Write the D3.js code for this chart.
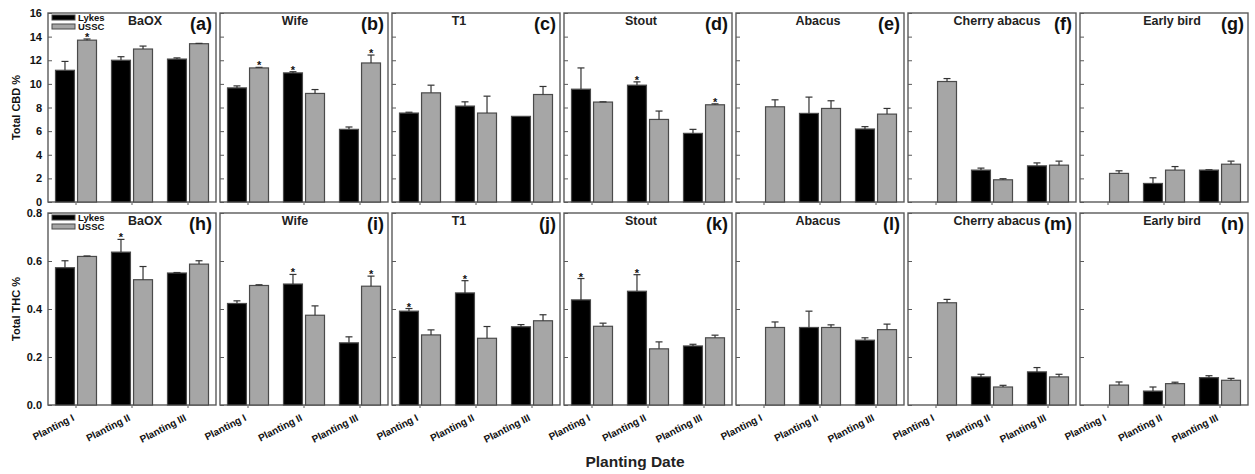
<!DOCTYPE html>
<html>
<head>
<meta charset="utf-8">
<script src="https://cdn.jsdelivr.net/npm/d3@7"></script>
<style>
  body { margin: 0; background: #fff; }
  svg { font-family: "Liberation Sans", Arial, sans-serif; }
</style>
</head>
<body>
<div id="chart"></div>
<script>
const cultivars = ["BaOX", "Wife", "T1", "Stout", "Abacus", "Cherry abacus", "Early bird"];
const plantings = ["Planting I", "Planting II", "Planting III"];
const series = ["Lykes", "USSC"];
const cbdTicks = [0, 2, 4, 6, 8, 10, 12, 14, 16];
const thcTicks = [0, 0.2, 0.4, 0.6, 0.8];

// Total CBD % (one row per cultivar, one value per planting date; null = no bar)
const cbdLykes = [[11.15, 12.0, 12.1], [9.66, 10.93, 6.15], [7.53, 8.12, 7.25], [9.55, 9.89, 5.81],
  [null, 7.5, 6.18], [null, 2.7, 3.06], [null, 1.57, 2.7]];
const cbdLykesErr = [[0.75, 0.3, 0.1], [0.17, 0.1, 0.2], [0.07, 0.36, 0], [1.8, 0.28, 0.34],
  [null, 1.38, 0.2], [null, 0.17, 0.25], [null, 0.48, 0.03]];
const cbdUssc = [[13.7, 12.95, 13.4], [11.35, 9.19, 11.77], [9.24, 7.53, 9.1], [8.46, 6.99, 8.23],
  [8.06, 7.92, 7.44], [10.2, 1.88, 3.12], [2.42, 2.7, 3.2]];
const cbdUsscErr = [[0.1, 0.25, 0.03], [0.05, 0.33, 0.67], [0.65, 1.43, 0.68], [0.02, 0.71, 0.08],
  [0.59, 0.65, 0.48], [0.25, 0.09, 0.34], [0.22, 0.3, 0.26]];
const cbdLykesSig = [[0, 0, 0], [0, 1, 0], [0, 0, 0], [0, 1, 0], [0, 0, 0], [0, 0, 0], [0, 0, 0]];
const cbdUsscSig = [[1, 0, 0], [1, 0, 1], [0, 0, 0], [0, 0, 1], [0, 0, 0], [0, 0, 0], [0, 0, 0]];

// Total THC %
const thcLykes = [[0.572, 0.637, 0.55], [0.423, 0.504, 0.259], [0.391, 0.467, 0.326], [0.438, 0.474, 0.246],
  [null, 0.323, 0.27], [null, 0.117, 0.138], [null, 0.058, 0.114]];
const thcLykesErr = [[0.029, 0.053, 0.002], [0.011, 0.04, 0.025], [0.011, 0.051, 0.009], [0.089, 0.069, 0.007],
  [null, 0.068, 0.01], [null, 0.011, 0.018], [null, 0.017, 0.008]];
const thcUssc = [[0.619, 0.522, 0.587], [0.498, 0.374, 0.495], [0.292, 0.278, 0.351], [0.328, 0.234, 0.28],
  [0.323, 0.323, 0.314], [0.426, 0.075, 0.117], [0.083, 0.089, 0.103]];
const thcUsscErr = [[0.002, 0.055, 0.014], [0.003, 0.039, 0.042], [0.021, 0.049, 0.025], [0.013, 0.029, 0.011],
  [0.023, 0.011, 0.023], [0.014, 0.007, 0.011], [0.013, 0.006, 0.008]];
const thcLykesSig = [[0, 1, 0], [0, 1, 0], [1, 1, 0], [1, 1, 0], [0, 0, 0], [0, 0, 0], [0, 0, 0]];
const thcUsscSig = [[0, 0, 0], [0, 0, 1], [0, 0, 0], [0, 0, 0], [0, 0, 0], [0, 0, 0], [0, 0, 0]];

const topLetters = ["(a)", "(b)", "(c)", "(d)", "(e)", "(f)", "(g)"];
const bottomLetters = ["(h)", "(i)", "(j)", "(k)", "(l)", "(m)", "(n)"];

// layout
const W = 1255, H = 474;
const panelLeft = 48, panelW = 168, panelGap = 4;
const titleOffset = [97, 75, 67, 77, 82, 89, 92];
const colors = { Lykes: "#000", USSC: "#a6a6a6" };
const outline = "#4a4a4a";

const svg = d3.select("#chart").append("svg")
  .attr("width", W).attr("height", H);

const x = d3.scaleBand().domain(plantings).range([0, panelW]);
const xs = d3.scaleBand().domain(series).range([-20.5, 20.5]).paddingInner(0.14);

const rows = [
  { top: 13, bottom: 202, domain: [0, 16], ticks: cbdTicks, fmt: d3.format("d"), label: "Total CBD %",
    vals: { Lykes: cbdLykes, USSC: cbdUssc }, errs: { Lykes: cbdLykesErr, USSC: cbdUsscErr },
    sig: { Lykes: cbdLykesSig, USSC: cbdUsscSig }, letters: topLetters, xLabels: false },
  { top: 213, bottom: 405, domain: [0, 0.8], ticks: thcTicks, fmt: d3.format(".1f"), label: "Total THC %",
    vals: { Lykes: thcLykes, USSC: thcUssc }, errs: { Lykes: thcLykesErr, USSC: thcUsscErr },
    sig: { Lykes: thcLykesSig, USSC: thcUsscSig }, letters: bottomLetters, xLabels: true }
];

rows.forEach(row => {
  const y = d3.scaleLinear().domain(row.domain).range([row.bottom, row.top]);
  const h = row.bottom - row.top;

  cultivars.forEach((name, ci) => {
    const g = svg.append("g")
      .attr("transform", `translate(${panelLeft + ci * (panelW + panelGap)},0)`);

    g.append("rect")
      .attr("x", 0).attr("y", row.top)
      .attr("width", panelW).attr("height", h)
      .attr("fill", "none").attr("stroke", "#5a5a5a").attr("stroke-width", 1.4);

    // y axis (inward ticks, labels only on first panel)
    const ya = g.append("g")
      .call(d3.axisLeft(y).tickValues(row.ticks).tickSize(-4).tickPadding(6)
        .tickFormat(ci === 0 ? row.fmt : () => ""));
    ya.select(".domain").remove();
    ya.selectAll(".tick line").attr("stroke", "#5a5a5a");
    ya.selectAll(".tick text").attr("font-size", 11).attr("font-weight", "bold").attr("fill", "#111");

    // x axis ticks
    const xa = g.append("g")
      .attr("transform", `translate(0,${row.bottom})`)
      .call(d3.axisBottom(x).tickSize(3).tickFormat(""));
    xa.select(".domain").remove();
    xa.selectAll(".tick line").attr("stroke", "#5a5a5a");

    if (row.xLabels) {
      g.selectAll(".xl").data(plantings).enter().append("text")
        .attr("text-anchor", "end")
        .attr("font-size", 10).attr("font-weight", "bold").attr("fill", "#111")
        .attr("transform", d => `translate(${x(d) + x.bandwidth() / 2 - 1},${row.bottom + 15}) rotate(-27)`)
        .text(d => d);
    }

    // bars
    const bars = [];
    plantings.forEach((p, pi) => {
      series.forEach(s => {
        const v = row.vals[s][ci][pi];
        if (v == null) return;
        bars.push({ p, s, v, e: row.errs[s][ci][pi], sig: row.sig[s][ci][pi] });
      });
    });
    const bx = d => x(d.p) + x.bandwidth() / 2 + xs(d.s);

    g.selectAll(".bar").data(bars).enter().append("rect")
      .attr("x", bx)
      .attr("y", d => y(d.v))
      .attr("width", xs.bandwidth())
      .attr("height", d => row.bottom - y(d.v))
      .attr("fill", d => colors[d.s])
      .attr("stroke", outline).attr("stroke-width", 1.2);

    const eb = bars.filter(d => d.e > 0);
    g.selectAll(".err").data(eb).enter().append("line")
      .attr("x1", d => bx(d) + xs.bandwidth() / 2).attr("x2", d => bx(d) + xs.bandwidth() / 2)
      .attr("y1", d => y(d.v)).attr("y2", d => y(d.v + d.e))
      .attr("stroke", "#333").attr("stroke-width", 1.2);
    g.selectAll(".cap").data(eb).enter().append("line")
      .attr("x1", d => bx(d) + xs.bandwidth() / 2 - 3.5).attr("x2", d => bx(d) + xs.bandwidth() / 2 + 3.5)
      .attr("y1", d => y(d.v + d.e)).attr("y2", d => y(d.v + d.e))
      .attr("stroke", "#333").attr("stroke-width", 1.2);

    g.selectAll(".star").data(bars.filter(d => d.sig)).enter().append("text")
      .attr("x", d => bx(d) + xs.bandwidth() / 2)
      .attr("y", d => y(d.v + (d.e || 0)) + 2)
      .attr("text-anchor", "middle")
      .attr("font-size", 11).attr("font-weight", "bold").attr("fill", "#111")
      .text("*");

    // titles
    g.append("text")
      .attr("x", titleOffset[ci]).attr("y", row.top + 12)
      .attr("text-anchor", "middle")
      .attr("font-size", 12.5).attr("font-weight", "bold").attr("fill", "#222")
      .text(name);
    g.append("text")
      .attr("x", panelW - 4).attr("y", row.top + 17)
      .attr("text-anchor", "end")
      .attr("font-size", 18).attr("font-weight", "bold").attr("fill", "#111")
      .text(row.letters[ci]);

    // legend on first panel
    if (ci === 0) {
      const lg = g.selectAll(".lg").data(series).enter().append("g")
        .attr("transform", (d, i) => `translate(4,${row.top + 2 + i * 9})`);
      lg.append("rect")
        .attr("width", 23).attr("height", 5)
        .attr("fill", d => colors[d]).attr("stroke", outline).attr("stroke-width", 1);
      lg.append("text")
        .attr("x", 26).attr("y", 6)
        .attr("font-size", 9.5).attr("font-weight", "bold").attr("fill", "#111")
        .text(d => d);
    }
  });

  svg.append("text")
    .attr("transform", `translate(20,${(row.top + row.bottom) / 2}) rotate(-90)`)
    .attr("text-anchor", "middle")
    .attr("font-size", 11).attr("font-weight", "bold").attr("fill", "#111")
    .text(row.label);
});

svg.append("text")
  .attr("x", 635).attr("y", 467)
  .attr("text-anchor", "middle")
  .attr("font-size", 15.5).attr("font-weight", "bold").attr("fill", "#222")
  .text("Planting Date");
</script>
</body>
</html>
